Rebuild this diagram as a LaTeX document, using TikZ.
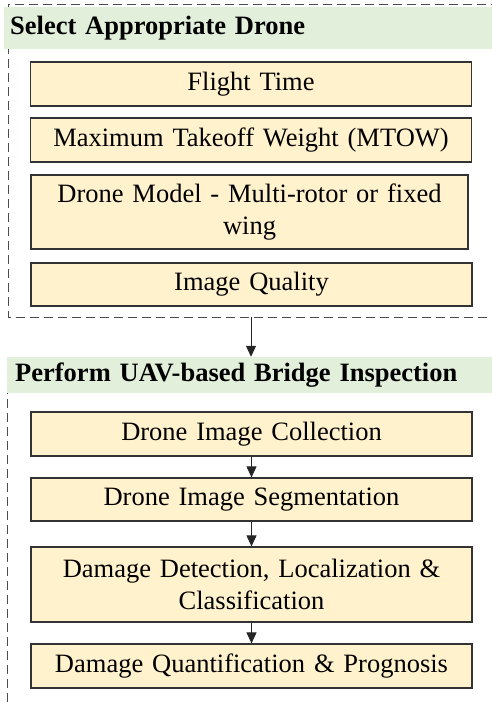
\documentclass[tikz,border=0pt]{standalone}
\usepackage{fontspec}
\setmainfont{Liberation Serif}
\usepackage{xcolor}
\usetikzlibrary{arrows.meta, positioning}
\definecolor{stepfill}{HTML}{FFF2CC}
\definecolor{headfill}{HTML}{E2EFDA}
\tikzset{
  stepbox/.style={draw=black!80, line width=1.2pt, fill=stepfill, minimum width=441pt,
    minimum height=44pt, text width=430pt, align=center, inner sep=0pt,
    font=\fontsize{26.5}{32}\selectfont},
  headbar/.style={fill=headfill, anchor=west, inner ysep=0pt, align=left,
    font=\bfseries\fontsize{26.5}{32}\selectfont},
  groupframe/.style={draw=black!70, dash pattern=on 9pt off 5pt, line width=1pt},
  flow/.style={-{Triangle[length=11pt,width=10pt]}, draw=black!85, line width=1pt}
}

\begin{document}
\begin{tikzpicture}[x=1pt, y=-1pt]
    \useasboundingbox (0,0) rectangle (491,703);

    % Gruppe 1: Drohne auswaehlen
    \draw[groupframe] (500,5) -- (8,5) -- (8,317) -- (500,317);
    \node[headbar, inner xsep=6pt, text width=482pt, minimum height=42pt] (hdrA) at (4,28) {Select Appropriate Drone};

    \node[stepbox] (flight) at (251,84) {Flight Time};
    \node[stepbox] (mtow) at (251,140) {Maximum Takeoff Weight (MTOW)};
    \node[stepbox, minimum width=437pt, minimum height=74pt] (model) at (249.5,212) {Drone Model - Multi-rotor or fixed\\wing};
    \node[stepbox, minimum height=43pt] (quality) at (251.5,284.5) {Image Quality};

    % Uebergang
    \coordinate (grpEnd) at (251,317);

    % Gruppe 2: Inspektion
    \draw[groupframe] (7,357) -- (7,710);
    \node[headbar, inner xsep=8pt, text width=483pt, minimum height=36pt] (hdrB) at (7,375) {Perform UAV-based Bridge Inspection};

    \draw[flow] (grpEnd) -- (grpEnd |- hdrB.north);

    \node[stepbox] (collect) at (251.5,434) {Drone Image Collection};
    \node[stepbox, minimum height=43pt] (segment) at (251.5,499.5) {Drone Image Segmentation};
    \node[stepbox, minimum height=75pt] (detect) at (251.5,584.5) {Damage Detection, Localization \&\\Classification};
    \node[stepbox] (quantify) at (251.5,666) {Damage Quantification \& Prognosis};

    \draw[flow] (collect) -- (segment);
    \draw[flow] (segment) -- (detect);
    \draw[flow] (detect) -- (quantify);
\end{tikzpicture}
\end{document}
